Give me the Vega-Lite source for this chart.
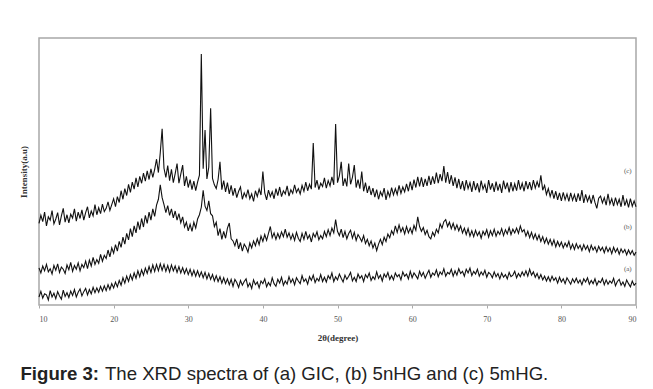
{
"$schema":"https://vega.github.io/schema/vega-lite/v6.json",
"width":597,"height":267,
"autosize":{"type":"none"},
"padding":{"left":39,"top":38,"right":17,"bottom":84},
"background":"white",
"config":{"view":{"stroke":"#a8a8a8","strokeWidth":1.5}},
"title":{"text":"The XRD spectra of (a) GIC, (b) 5nHG and (c) 5mHG.","orient":"bottom","anchor":"start","frame":"group","dx":66,"dy":-22,"font":"Liberation Sans","fontSize":18.6,"fontWeight":"normal","color":"#222222"},
"datasets":{
"xrd":[
{"x":10.00,"a":3.0,"b":13.9,"c":30.6},{"x":10.25,"a":5.1,"b":12.0,"c":33.6},{"x":10.50,"a":2.6,"b":14.6,"c":31.2},{"x":10.75,"a":4.2,"b":12.8,"c":34.8},
{"x":11.00,"a":3.8,"b":15.2,"c":29.6},{"x":11.25,"a":1.9,"b":12.4,"c":33.0},{"x":11.50,"a":5.4,"b":13.6,"c":31.8},{"x":11.75,"a":3.0,"b":11.6,"c":35.4},
{"x":12.00,"a":4.4,"b":14.8,"c":30.4},{"x":12.25,"a":2.4,"b":13.0,"c":32.2},{"x":12.50,"a":5.0,"b":15.4,"c":34.6},{"x":12.75,"a":3.4,"b":12.2,"c":30.0},
{"x":13.00,"a":2.2,"b":14.2,"c":33.4},{"x":13.25,"a":5.6,"b":13.4,"c":36.2},{"x":13.50,"a":3.2,"b":11.8,"c":31.0},{"x":13.75,"a":4.6,"b":15.0,"c":33.8},
{"x":14.00,"a":2.8,"b":13.2,"c":30.8},{"x":14.25,"a":5.2,"b":16.0,"c":34.0},{"x":14.50,"a":3.6,"b":12.6,"c":32.6},{"x":14.75,"a":5.8,"b":14.8,"c":36.0},
{"x":15.00,"a":3.0,"b":13.4,"c":31.4},{"x":15.25,"a":4.8,"b":15.8,"c":34.8},{"x":15.50,"a":6.0,"b":12.8,"c":32.4},{"x":15.75,"a":3.4,"b":15.2,"c":35.6},
{"x":16.00,"a":5.0,"b":14.0,"c":31.8},{"x":16.25,"a":6.2,"b":16.4,"c":34.6},{"x":16.50,"a":3.8,"b":13.6,"c":36.8},{"x":16.75,"a":5.8,"b":16.8,"c":32.6},
{"x":17.00,"a":4.2,"b":14.6,"c":35.2},{"x":17.25,"a":6.6,"b":17.8,"c":33.4},{"x":17.50,"a":4.6,"b":15.2,"c":37.6},{"x":17.75,"a":6.4,"b":17.0,"c":33.8},
{"x":18.00,"a":4.8,"b":15.6,"c":36.4},{"x":18.25,"a":7.0,"b":19.0,"c":34.2},{"x":18.50,"a":5.2,"b":16.4,"c":37.8},{"x":18.75,"a":7.2,"b":18.6,"c":35.0},
{"x":19.00,"a":5.4,"b":17.4,"c":36.2},{"x":19.25,"a":7.6,"b":20.6,"c":38.6},{"x":19.50,"a":5.8,"b":18.0,"c":35.4},{"x":19.75,"a":8.0,"b":21.4,"c":37.6},
{"x":20.00,"a":6.4,"b":19.4,"c":39.8},{"x":20.25,"a":8.6,"b":22.6,"c":36.8},{"x":20.50,"a":6.8,"b":20.2,"c":40.6},{"x":20.75,"a":9.2,"b":23.8,"c":38.4},
{"x":21.00,"a":7.4,"b":21.6,"c":42.8},{"x":21.25,"a":10.2,"b":25.4,"c":39.6},{"x":21.50,"a":8.2,"b":22.8,"c":43.6},{"x":21.75,"a":10.8,"b":26.8,"c":41.0},
{"x":22.00,"a":8.8,"b":24.4,"c":45.2},{"x":22.25,"a":11.4,"b":28.6,"c":42.2},{"x":22.50,"a":9.4,"b":25.6,"c":46.0},{"x":22.75,"a":12.0,"b":29.6,"c":43.4},
{"x":23.00,"a":10.0,"b":27.0,"c":47.6},{"x":23.25,"a":12.8,"b":31.2,"c":44.2},{"x":23.50,"a":10.6,"b":28.2,"c":48.2},{"x":23.75,"a":13.2,"b":32.4,"c":45.6},
{"x":24.00,"a":11.2,"b":29.2,"c":49.4},{"x":24.25,"a":13.8,"b":33.6,"c":46.4},{"x":24.50,"a":11.8,"b":30.6,"c":50.2},{"x":24.75,"a":14.4,"b":34.8,"c":47.0},
{"x":25.00,"a":12.2,"b":31.8,"c":51.0},{"x":25.25,"a":15.0,"b":36.0,"c":47.8},{"x":25.50,"a":12.6,"b":33.2,"c":50.8},{"x":25.75,"a":15.2,"b":37.4,"c":54.6},
{"x":26.00,"a":12.8,"b":39.6,"c":49.6},{"x":26.25,"a":15.4,"b":45.0,"c":57.0},{"x":26.50,"a":13.0,"b":40.2,"c":66.0},{"x":26.75,"a":15.2,"b":37.6,"c":51.2},
{"x":27.00,"a":12.6,"b":34.6,"c":47.8},{"x":27.25,"a":14.8,"b":37.2,"c":52.2},{"x":27.50,"a":12.4,"b":33.6,"c":46.6},{"x":27.75,"a":15.0,"b":36.0,"c":50.8},
{"x":28.00,"a":12.8,"b":32.6,"c":45.8},{"x":28.25,"a":14.6,"b":35.2,"c":49.2},{"x":28.50,"a":12.2,"b":31.8,"c":53.0},{"x":28.75,"a":14.4,"b":34.2,"c":45.6},
{"x":29.00,"a":12.0,"b":30.8,"c":49.0},{"x":29.25,"a":14.0,"b":33.0,"c":52.4},{"x":29.50,"a":11.8,"b":29.2,"c":44.6},{"x":29.75,"a":13.6,"b":31.0,"c":48.2},
{"x":30.00,"a":11.4,"b":27.8,"c":44.0},{"x":30.25,"a":13.4,"b":30.2,"c":47.0},{"x":30.50,"a":11.0,"b":27.6,"c":43.2},{"x":30.75,"a":13.0,"b":31.0,"c":46.4},
{"x":31.00,"a":10.8,"b":28.8,"c":42.8},{"x":31.25,"a":12.8,"b":32.2,"c":46.0},{"x":31.50,"a":10.6,"b":33.8,"c":48.6},{"x":31.75,"a":12.4,"b":36.6,"c":94.0},
{"x":32.00,"a":10.2,"b":43.0,"c":51.0},{"x":32.25,"a":12.2,"b":37.0,"c":65.5},{"x":32.50,"a":9.8,"b":35.4,"c":47.2},{"x":32.75,"a":11.8,"b":39.0,"c":51.6},
{"x":33.00,"a":9.6,"b":34.2,"c":73.7},{"x":33.25,"a":11.4,"b":33.4,"c":47.4},{"x":33.50,"a":9.0,"b":29.4,"c":45.0},{"x":33.75,"a":11.0,"b":31.0,"c":43.6},
{"x":34.00,"a":8.8,"b":26.0,"c":47.0},{"x":34.25,"a":10.6,"b":28.6,"c":53.6},{"x":34.50,"a":8.2,"b":24.6,"c":43.2},{"x":34.75,"a":10.2,"b":27.6,"c":46.6},
{"x":35.00,"a":8.0,"b":25.0,"c":42.4},{"x":35.25,"a":9.8,"b":28.8,"c":45.8},{"x":35.50,"a":7.6,"b":30.7,"c":41.6},{"x":35.75,"a":9.6,"b":24.8,"c":44.8},
{"x":36.00,"a":7.0,"b":24.0,"c":41.0},{"x":36.25,"a":9.6,"b":22.2,"c":43.8},{"x":36.50,"a":8.4,"b":24.8,"c":40.2},{"x":36.75,"a":6.6,"b":21.0,"c":42.6},
{"x":37.00,"a":9.2,"b":23.4,"c":44.2},{"x":37.25,"a":7.4,"b":20.2,"c":39.6},{"x":37.50,"a":8.8,"b":22.8,"c":42.0},{"x":37.75,"a":9.8,"b":21.6,"c":40.4},
{"x":38.00,"a":6.8,"b":19.8,"c":43.2},{"x":38.25,"a":8.2,"b":23.2,"c":39.8},{"x":38.50,"a":6.2,"b":21.4,"c":41.6},{"x":38.75,"a":9.4,"b":24.0,"c":38.8},
{"x":39.00,"a":7.6,"b":22.2,"c":42.8},{"x":39.25,"a":8.6,"b":24.8,"c":40.6},{"x":39.50,"a":6.4,"b":22.6,"c":43.4},{"x":39.75,"a":9.0,"b":25.8,"c":41.2},
{"x":40.00,"a":8.0,"b":23.8,"c":50.0},{"x":40.25,"a":9.8,"b":26.4,"c":42.0},{"x":40.50,"a":6.8,"b":24.2,"c":39.4},{"x":40.75,"a":8.4,"b":26.8,"c":43.0},
{"x":41.00,"a":7.2,"b":29.4,"c":40.6},{"x":41.25,"a":10.2,"b":25.2,"c":42.4},{"x":41.50,"a":8.0,"b":27.0,"c":39.8},{"x":41.75,"a":7.0,"b":24.6,"c":43.6},
{"x":42.00,"a":9.6,"b":26.8,"c":41.0},{"x":42.25,"a":8.2,"b":25.0,"c":44.2},{"x":42.50,"a":10.4,"b":27.4,"c":40.6},{"x":42.75,"a":7.4,"b":25.6,"c":42.8},
{"x":43.00,"a":9.0,"b":28.4,"c":41.6},{"x":43.25,"a":7.8,"b":25.4,"c":44.6},{"x":43.50,"a":10.6,"b":27.0,"c":40.8},{"x":43.75,"a":8.4,"b":24.6,"c":43.2},
{"x":44.00,"a":9.8,"b":26.6,"c":41.8},{"x":44.25,"a":7.6,"b":24.2,"c":45.0},{"x":44.50,"a":10.2,"b":27.2,"c":42.2},{"x":44.75,"a":9.0,"b":25.0,"c":43.6},
{"x":45.00,"a":8.0,"b":23.8,"c":41.6},{"x":45.25,"a":11.0,"b":26.8,"c":44.8},{"x":45.50,"a":8.8,"b":24.6,"c":42.6},{"x":45.75,"a":9.8,"b":27.6,"c":46.0},
{"x":46.00,"a":7.8,"b":24.8,"c":42.8},{"x":46.25,"a":10.6,"b":26.2,"c":45.2},{"x":46.50,"a":9.2,"b":23.6,"c":43.4},{"x":46.75,"a":11.2,"b":26.8,"c":60.7},
{"x":47.00,"a":8.4,"b":25.4,"c":44.0},{"x":47.25,"a":10.0,"b":27.4,"c":46.8},{"x":47.50,"a":9.0,"b":24.4,"c":43.2},{"x":47.75,"a":11.4,"b":26.0,"c":45.6},
{"x":48.00,"a":8.8,"b":24.8,"c":44.4},{"x":48.25,"a":10.4,"b":27.6,"c":47.6},{"x":48.50,"a":8.6,"b":25.6,"c":43.8},{"x":48.75,"a":11.0,"b":28.2,"c":46.6},
{"x":49.00,"a":9.8,"b":26.0,"c":44.6},{"x":49.25,"a":12.0,"b":28.8,"c":48.0},{"x":49.50,"a":8.8,"b":27.0,"c":45.0},{"x":49.75,"a":10.6,"b":32.0,"c":67.8},
{"x":50.00,"a":9.4,"b":27.6,"c":45.8},{"x":50.25,"a":11.6,"b":26.0,"c":48.4},{"x":50.50,"a":10.0,"b":28.4,"c":53.6},{"x":50.75,"a":8.6,"b":25.2,"c":44.6},
{"x":51.00,"a":11.2,"b":27.6,"c":47.4},{"x":51.25,"a":9.6,"b":24.8,"c":44.4},{"x":51.50,"a":10.8,"b":26.8,"c":53.0},{"x":51.75,"a":12.2,"b":28.0,"c":45.2},
{"x":52.00,"a":9.0,"b":25.0,"c":47.8},{"x":52.25,"a":10.4,"b":27.2,"c":52.4},{"x":52.50,"a":8.8,"b":24.2,"c":44.0},{"x":52.75,"a":11.6,"b":26.4,"c":47.0},
{"x":53.00,"a":10.0,"b":25.2,"c":43.6},{"x":53.25,"a":11.0,"b":23.8,"c":50.0},{"x":53.50,"a":8.8,"b":26.0,"c":42.6},{"x":53.75,"a":11.4,"b":23.0,"c":45.8},
{"x":54.00,"a":10.2,"b":24.6,"c":42.0},{"x":54.25,"a":12.0,"b":22.2,"c":44.6},{"x":54.50,"a":9.2,"b":24.0,"c":41.2},{"x":54.75,"a":10.6,"b":21.4,"c":43.8},
{"x":55.00,"a":9.6,"b":23.2,"c":40.4},{"x":55.25,"a":12.4,"b":20.4,"c":43.2},{"x":55.50,"a":10.0,"b":22.8,"c":39.6},{"x":55.75,"a":11.2,"b":24.6,"c":42.4},
{"x":56.00,"a":9.0,"b":22.6,"c":40.8},{"x":56.25,"a":11.6,"b":25.4,"c":43.8},{"x":56.50,"a":10.4,"b":23.8,"c":39.4},{"x":56.75,"a":12.2,"b":26.6,"c":42.6},
{"x":57.00,"a":9.6,"b":25.2,"c":40.6},{"x":57.25,"a":11.0,"b":27.8,"c":44.0},{"x":57.50,"a":9.4,"b":26.4,"c":41.2},{"x":57.75,"a":12.0,"b":29.6,"c":43.6},
{"x":58.00,"a":10.6,"b":27.2,"c":41.4},{"x":58.25,"a":11.4,"b":30.0,"c":44.8},{"x":58.50,"a":9.4,"b":27.4,"c":41.8},{"x":58.75,"a":12.4,"b":29.0,"c":44.2},
{"x":59.00,"a":10.8,"b":26.6,"c":42.4},{"x":59.25,"a":11.6,"b":29.4,"c":45.4},{"x":59.50,"a":9.8,"b":27.0,"c":42.6},{"x":59.75,"a":12.6,"b":28.8,"c":46.2},
{"x":60.00,"a":10.2,"b":26.8,"c":43.0},{"x":60.25,"a":12.0,"b":29.8,"c":47.0},{"x":60.50,"a":11.0,"b":28.0,"c":44.0},{"x":60.75,"a":9.8,"b":33.0,"c":48.0},
{"x":61.00,"a":12.6,"b":29.4,"c":44.4},{"x":61.25,"a":10.8,"b":27.6,"c":47.8},{"x":61.50,"a":12.2,"b":29.0,"c":44.2},{"x":61.75,"a":10.0,"b":26.4,"c":47.2},
{"x":62.00,"a":11.6,"b":28.0,"c":44.6},{"x":62.25,"a":13.0,"b":25.6,"c":48.4},{"x":62.50,"a":10.4,"b":24.8,"c":45.0},{"x":62.75,"a":12.0,"b":27.2,"c":48.2},
{"x":63.00,"a":11.2,"b":25.8,"c":45.4},{"x":63.25,"a":13.2,"b":28.4,"c":49.6},{"x":63.50,"a":10.6,"b":27.0,"c":45.6},{"x":63.75,"a":12.4,"b":30.4,"c":49.0},
{"x":64.00,"a":11.4,"b":28.8,"c":46.4},{"x":64.25,"a":13.6,"b":31.2,"c":52.0},{"x":64.50,"a":10.8,"b":32.0,"c":45.8},{"x":64.75,"a":12.2,"b":29.4,"c":49.8},
{"x":65.00,"a":11.6,"b":31.0,"c":45.4},{"x":65.25,"a":13.4,"b":28.6,"c":48.6},{"x":65.50,"a":10.8,"b":30.6,"c":44.6},{"x":65.75,"a":12.8,"b":28.2,"c":47.8},
{"x":66.00,"a":11.2,"b":30.0,"c":43.8},{"x":66.25,"a":13.6,"b":27.8,"c":47.2},{"x":66.50,"a":11.8,"b":29.6,"c":43.4},{"x":66.75,"a":12.6,"b":27.0,"c":46.4},
{"x":67.00,"a":10.8,"b":28.8,"c":42.8},{"x":67.25,"a":13.4,"b":26.4,"c":46.8},{"x":67.50,"a":12.0,"b":28.6,"c":43.6},{"x":67.75,"a":13.8,"b":25.8,"c":45.8},
{"x":68.00,"a":11.0,"b":27.8,"c":42.4},{"x":68.25,"a":12.6,"b":25.6,"c":46.4},{"x":68.50,"a":11.6,"b":28.0,"c":43.0},{"x":68.75,"a":13.4,"b":26.0,"c":45.6},
{"x":69.00,"a":10.8,"b":27.4,"c":42.2},{"x":69.25,"a":12.4,"b":25.0,"c":46.6},{"x":69.50,"a":11.2,"b":27.6,"c":43.4},{"x":69.75,"a":13.0,"b":26.2,"c":45.2},
{"x":70.00,"a":10.4,"b":28.2,"c":42.0},{"x":70.25,"a":12.2,"b":25.4,"c":46.8},{"x":70.50,"a":11.6,"b":27.8,"c":43.2},{"x":70.75,"a":10.2,"b":26.0,"c":45.6},
{"x":71.00,"a":12.4,"b":28.4,"c":42.4},{"x":71.25,"a":10.6,"b":25.8,"c":46.2},{"x":71.50,"a":11.8,"b":27.6,"c":42.8},{"x":71.75,"a":9.8,"b":26.4,"c":45.4},
{"x":72.00,"a":12.0,"b":28.6,"c":42.0},{"x":72.25,"a":10.4,"b":26.0,"c":46.6},{"x":72.50,"a":11.4,"b":28.2,"c":43.4},{"x":72.75,"a":9.8,"b":26.6,"c":45.8},
{"x":73.00,"a":12.2,"b":29.0,"c":42.2},{"x":73.25,"a":10.6,"b":26.4,"c":46.0},{"x":73.50,"a":11.2,"b":28.4,"c":42.6},{"x":73.75,"a":12.6,"b":27.0,"c":45.4},
{"x":74.00,"a":10.2,"b":28.8,"c":42.8},{"x":74.25,"a":11.8,"b":26.8,"c":46.8},{"x":74.50,"a":10.6,"b":29.6,"c":43.2},{"x":74.75,"a":12.4,"b":27.4,"c":45.6},
{"x":75.00,"a":11.0,"b":28.2,"c":42.6},{"x":75.25,"a":12.8,"b":25.8,"c":46.4},{"x":75.50,"a":10.8,"b":27.6,"c":43.4},{"x":75.75,"a":13.4,"b":25.2,"c":46.0},
{"x":76.00,"a":11.2,"b":27.2,"c":43.0},{"x":76.25,"a":12.4,"b":24.8,"c":46.8},{"x":76.50,"a":10.4,"b":26.6,"c":43.8},{"x":76.75,"a":11.8,"b":24.4,"c":46.2},
{"x":77.00,"a":9.8,"b":26.2,"c":44.0},{"x":77.25,"a":11.4,"b":23.8,"c":48.6},{"x":77.50,"a":9.4,"b":25.6,"c":43.0},{"x":77.75,"a":10.8,"b":23.2,"c":44.8},
{"x":78.00,"a":9.0,"b":25.0,"c":41.4},{"x":78.25,"a":10.6,"b":22.8,"c":43.6},{"x":78.50,"a":8.8,"b":24.6,"c":40.6},{"x":78.75,"a":10.8,"b":22.4,"c":43.0},
{"x":79.00,"a":9.2,"b":24.4,"c":39.8},{"x":79.25,"a":10.2,"b":21.8,"c":42.6},{"x":79.50,"a":8.2,"b":23.8,"c":39.4},{"x":79.75,"a":10.4,"b":22.0,"c":42.0},
{"x":80.00,"a":8.6,"b":23.6,"c":39.0},{"x":80.25,"a":9.8,"b":21.4,"c":42.2},{"x":80.50,"a":8.0,"b":23.2,"c":39.4},{"x":80.75,"a":10.2,"b":21.8,"c":41.6},
{"x":81.00,"a":9.0,"b":23.8,"c":38.8},{"x":81.25,"a":7.8,"b":21.0,"c":42.0},{"x":81.50,"a":9.8,"b":22.8,"c":39.2},{"x":81.75,"a":8.4,"b":20.8,"c":41.4},
{"x":82.00,"a":10.0,"b":23.0,"c":38.6},{"x":82.25,"a":8.2,"b":21.2,"c":41.8},{"x":82.50,"a":9.4,"b":22.4,"c":39.0},{"x":82.75,"a":7.6,"b":20.4,"c":43.0},
{"x":83.00,"a":9.8,"b":22.6,"c":38.2},{"x":83.25,"a":8.6,"b":20.8,"c":41.4},{"x":83.50,"a":10.2,"b":22.2,"c":38.8},{"x":83.75,"a":7.8,"b":20.0,"c":40.8},
{"x":84.00,"a":9.2,"b":22.4,"c":38.0},{"x":84.25,"a":8.0,"b":20.6,"c":41.2},{"x":84.50,"a":9.8,"b":21.8,"c":38.4},{"x":84.75,"a":7.4,"b":19.8,"c":36.2},
{"x":85.00,"a":9.0,"b":22.0,"c":40.0},{"x":85.25,"a":8.4,"b":20.4,"c":40.8},{"x":85.50,"a":10.0,"b":21.6,"c":38.2},{"x":85.75,"a":7.6,"b":19.6,"c":40.2},
{"x":86.00,"a":9.4,"b":21.8,"c":37.4},{"x":86.25,"a":7.8,"b":20.0,"c":41.6},{"x":86.50,"a":9.0,"b":21.4,"c":37.8},{"x":86.75,"a":8.2,"b":19.2,"c":39.8},
{"x":87.00,"a":10.0,"b":21.6,"c":37.0},{"x":87.25,"a":7.2,"b":19.8,"c":40.2},{"x":87.50,"a":8.8,"b":21.2,"c":37.6},{"x":87.75,"a":9.6,"b":19.0,"c":39.6},
{"x":88.00,"a":7.4,"b":21.0,"c":36.8},{"x":88.25,"a":8.6,"b":19.6,"c":41.2},{"x":88.50,"a":7.0,"b":20.8,"c":37.2},{"x":88.75,"a":9.4,"b":18.8,"c":39.4},
{"x":89.00,"a":8.0,"b":20.6,"c":36.6},{"x":89.25,"a":6.8,"b":19.0,"c":39.8},{"x":89.50,"a":9.0,"b":20.4,"c":37.0},{"x":89.75,"a":7.4,"b":18.6,"c":39.0},
{"x":90.00,"a":8.2,"b":19.8,"c":36.8}
],
"labels":[{"x":88.9,"y":50.2,"t":"(c)"},{"x":88.9,"y":29.2,"t":"(b)"},{"x":88.9,"y":13.5,"t":"(a)"}]
},
"layer":[
{"data":{"name":"xrd"},
 "transform":[{"fold":["a","b","c"],"as":["s","y"]}],
 "mark":{"type":"line","strokeWidth":1.1,"color":"#111111"},
 "encoding":{
  "x":{"field":"x","type":"quantitative","scale":{"domain":[10,90],"nice":false,"zero":false},
   "axis":{"title":"2θ(degree)","values":[10,20,30,40,50,60,70,80,90],"grid":false,"domain":false,"tickSize":3,"tickColor":"#aaaaaa","labelFont":"Liberation Serif","labelFontSize":8,"labelColor":"#555555","labelPadding":7,"titleFont":"Liberation Serif","titleFontSize":9,"titleFontWeight":"bold","titleColor":"#333333","titlePadding":10}},
  "y":{"field":"y","type":"quantitative","scale":{"domain":[0,100],"nice":false},
   "axis":{"title":"Intensity(a.u)","labels":false,"ticks":false,"domain":false,"grid":false,"titleFont":"Liberation Serif","titleFontSize":9,"titleFontWeight":"bold","titleColor":"#333333","titlePadding":11}},
  "detail":{"field":"s","type":"nominal"}}},
{"data":{"name":"labels"},
 "mark":{"type":"text","font":"Liberation Serif","fontSize":7,"color":"#555555"},
 "encoding":{
  "x":{"field":"x","type":"quantitative","scale":{"domain":[10,90],"nice":false,"zero":false},
   "axis":{"orient":"bottom","title":"Figure 3:","labels":false,"ticks":false,"domain":false,"grid":false,"titleX":-19,"titleY":74,"titleAlign":"left","titleAnchor":"start","titleBaseline":"alphabetic","titleFont":"Liberation Sans","titleFontSize":18.6,"titleFontWeight":"bold","titleColor":"#222222"}},
  "y":{"field":"y","type":"quantitative","scale":{"domain":[0,100],"nice":false},
   "axis":{"title":"Intensity(a.u)","labels":false,"ticks":false,"domain":false,"grid":false,"titleFont":"Liberation Serif","titleFontSize":9,"titleFontWeight":"bold","titleColor":"#333333","titlePadding":11}},
  "text":{"field":"t","type":"nominal"}}}
],
"resolve":{"axis":{"x":"independent"}}
}
